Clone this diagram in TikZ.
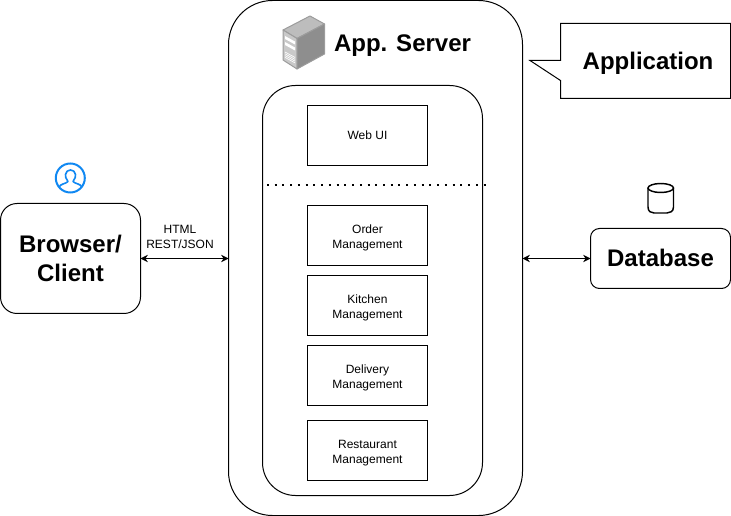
\documentclass[tikz,border=0pt]{standalone}
\usepackage{fontspec}
\setmainfont{Liberation Sans}
\usetikzlibrary{arrows.meta}
\definecolor{azul}{HTML}{1088F2}
\definecolor{caratop}{HTML}{BDBDBD}
\definecolor{caralado}{HTML}{C9C9C9}
\definecolor{carafondo}{HTML}{8E8E8E}
\definecolor{bordeicono}{HTML}{9C9C9C}
\newcommand{\twolines}[2]{\begin{tabular}{@{}c@{}}\rule{0pt}{11.7pt}#1\\#2\end{tabular}}

\begin{document}
\begin{tikzpicture}[
    x=0.75pt,y=-0.75pt,line width=0.75pt,
    every node/.style={align=center,inner sep=0pt,outer sep=0pt},
    module/.style={draw,minimum width=90pt,minimum height=45pt,font=\fontsize{9}{11.25}\selectfont},
    title/.style={font=\fontsize{18}{22}\selectfont\bfseries},
    link/.style={{Stealth[length=5.5pt,width=5.5pt]}-{Stealth[length=5.5pt,width=5.5pt]}}
  ]
    \useasboundingbox (0,0) rectangle (731,516);
    % frames
    \node[draw,rounded corners=33pt,minimum width=220.5pt,minimum height=386.25pt] (server) at (375.5,258) {};
    \node[draw,rounded corners=24.75pt,minimum width=165pt,minimum height=307.5pt] (core) at (372.5,290.5) {};
    \node[title] (servertitle) at (402.5,46) {App. Server};
    % modules
    \node[module] (webui) at (367.5,135.5) {Web UI};
    \node[module] (order) at (367.5,235.5) {\twolines{Order}{Management}};
    \node[module] (kitchen) at (367.5,305.5) {\twolines{Kitchen}{Management}};
    \node[module] (delivery) at (367.5,375.5) {\twolines{Delivery}{Management}};
    \node[module] (restaurant) at (367.5,450.5) {\twolines{Restaurant}{Management}};
    \coordinate (sepleft) at (267,185.5);
    \coordinate (sepright) at (487,185.5);
    \draw[line width=1.5pt,dash pattern=on 1.5pt off 4.3pt] (sepleft) -- (sepright);
    % outside
    \node[draw,rounded corners=12.4pt,minimum width=105pt,minimum height=82.5pt,title] (client) at (70.5,258.5) {Browser/\\Client};
    \node[draw,rounded corners=6.75pt,minimum width=105pt,minimum height=45pt,title] (database) at (660.5,258.5) {\raisebox{0.7pt}{Database}};
    \node[font=\fontsize{9}{11.25}\selectfont] (protocol) at (180,236.5) {HTML\\REST/JSON};
    \draw[link] (client.east |- 0,258.5) -- (server.west |- 0,258.5);
    \draw[link] (server.east |- 0,258.5) -- (database.west |- 0,258.5);
    % callout
    \draw (560.5,23.5) -- (730.5,23.5) -- (730.5,98.5) -- (560.5,98.5) -- (560.5,80.5) -- (530,60.5) -- (560.5,60.5) -- cycle;
    \node[title] (application) at (648,63) {Application};
    % server icon
    \draw[bordeicono,fill=caratop,line join=round] (283,30) -- (310,16) -- (324.5,24) -- (297,38.5) -- cycle;
    \draw[bordeicono,fill=caralado,line join=round] (283,30) -- (297,38.5) -- (297,69) -- (283,60) -- cycle;
    \draw[bordeicono,fill=carafondo,line join=round] (297,38.5) -- (324.5,24) -- (324.5,54) -- (297,69) -- cycle;
    \fill[white] (285,36) -- (295,41.5) -- (295,44.5) -- (285,39) -- cycle;
    \fill[white] (285,42) -- (295,47.5) -- (295,50.5) -- (285,45) -- cycle;
    \foreach \s in {0,1.8,3.6,5.4}
      \draw[white,line width=0.5pt] (285,52+\s) -- (295,57.5+\s);
    % user icon
    \draw[azul,line width=1.5pt] (70.3,178) circle (14.5);
    \draw[azul,line width=1.2pt,line join=round] (59,187.5) .. controls (60,183.5) and (66,184) .. (68,181.5)
      .. controls (66,179) and (65,176) .. (65.5,174.5) .. controls (66,168.5) and (75,168.5) .. (75.5,174.5)
      .. controls (76,176) and (75,179) .. (73,181.5) .. controls (75,184) and (81,183.5) .. (82,187.5);
    % database icon
    \draw[line width=1.1pt] (648,188) -- (648,207) .. controls (648,211.5) and (651,213) .. (654,213)
      -- (667,213) .. controls (670,213) and (673.5,211.5) .. (673.5,207) -- (673.5,188);
    \draw[line width=1.1pt] (660.75,188) ellipse (12.75 and 4.5);
  \end{tikzpicture}
\end{document}
